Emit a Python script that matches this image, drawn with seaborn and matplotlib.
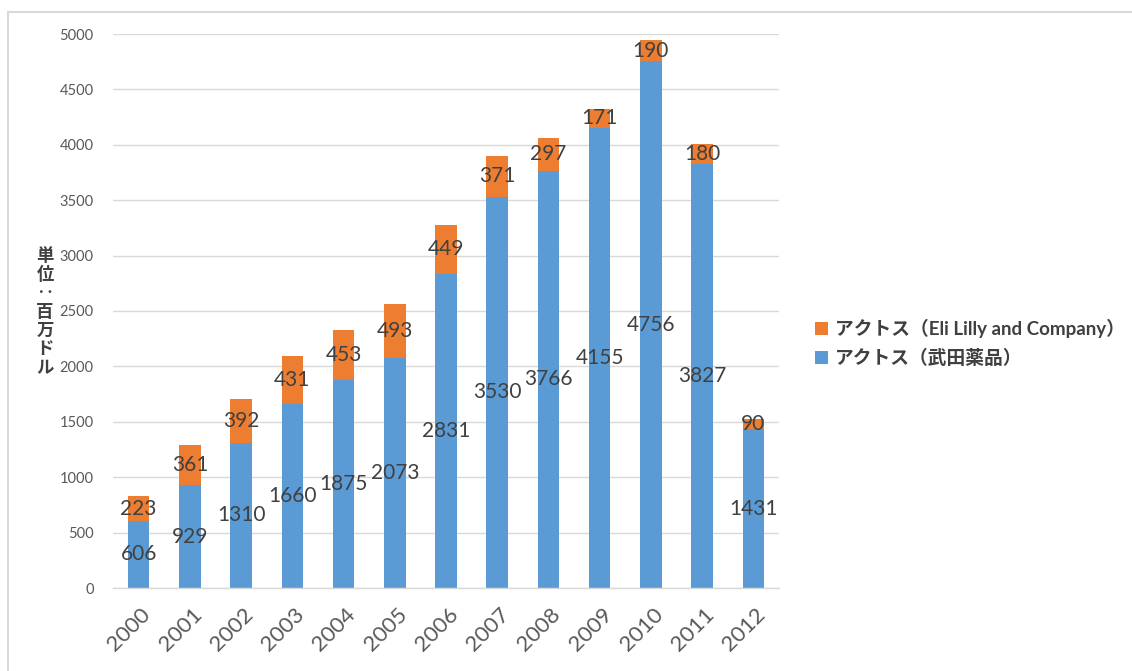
import matplotlib
matplotlib.use("Agg")
import matplotlib.pyplot as plt
import matplotlib.transforms as mtransforms
from matplotlib.patches import Rectangle, Patch
import seaborn as sns
import pandas as pd

years = ["2000", "2001", "2002", "2003", "2004", "2005", "2006",
         "2007", "2008", "2009", "2010", "2011", "2012"]
takeda = [606, 929, 1310, 1660, 1875, 2073, 2831, 3530, 3766, 4155, 4756, 3827, 1431]
lilly = [223, 361, 392, 431, 453, 493, 449, 371, 297, 171, 190, 180, 90]
label_takeda = "アクトス（武田薬品）"
label_lilly = "アクトス（Eli Lilly and Company）"
ylabel_text = "単位：百万ドル"

BLUE = "#5B9BD5"
ORANGE = "#ED7D31"
GRID = "#D9D9D9"
TEXT = "#404040"
TICK = "#595959"

sns.set_theme(style="white")
plt.rcParams["font.family"] = ["Lato", "Noto Sans CJK JP", "DejaVu Sans"]

df = pd.DataFrame({"year": years, "takeda": takeda, "lilly": lilly})

fig = plt.figure(figsize=(11.32, 6.71), dpi=100)
ax = fig.add_axes([113 / 1132, 1 - 588 / 671, (779 - 113) / 1132, (588 - 34) / 671])

sns.barplot(data=df, x="year", y="takeda", color=BLUE, width=0.42,
            saturation=1, ax=ax, linewidth=0, edgecolor="none")
sns.barplot(data=df, x="year", y="lilly", color=ORANGE, width=0.42,
            saturation=1, ax=ax, bottom=df["takeda"], linewidth=0, edgecolor="none")
if ax.get_legend() is not None:
    ax.get_legend().remove()

ax.set_ylim(0, 5000)
ax.set_xlim(-0.5, len(years) - 0.5)
ax.set_yticks(range(0, 5001, 500))
ax.yaxis.grid(True, color=GRID, linewidth=1)
ax.set_axisbelow(True)
for s in ["top", "right", "left"]:
    ax.spines[s].set_visible(False)
ax.spines["bottom"].set_color(GRID)
ax.spines["bottom"].set_linewidth(1)
ax.tick_params(axis="y", length=0, pad=14, labelsize=10.5, labelcolor=TICK)
ax.tick_params(axis="x", length=0, pad=17, labelsize=16, labelcolor=TICK)
ax.set_xlabel("")
ax.set_ylabel("")

offset = mtransforms.ScaledTranslation(9 / 100, 0, fig.dpi_scale_trans)
for lab in ax.get_xticklabels():
    lab.set_rotation(45)
    lab.set_ha("right")
    lab.set_va("center")
    lab.set_rotation_mode("anchor")
    lab.set_transform(lab.get_transform() + offset)

# data labels
for i, (b, o) in enumerate(zip(takeda, lilly)):
    ax.text(i, b / 2, str(b), ha="center", va="center", fontsize=15, color=TEXT)
    ax.text(i, b + o / 2, str(o), ha="center", va="center", fontsize=15, color=TEXT)

# vertical y label
fig.text(45 / 1132, 1 - 312 / 671, "\n".join(["単", "位", "‥", "百", "万", "ド", "ル"]),
         ha="center", va="center", fontsize=12.5, fontweight="bold", color=TEXT,
         linespacing=1.05, family=["Noto Sans CJK JP", "DejaVu Sans"])

handles = [Patch(facecolor=ORANGE, edgecolor="none"), Patch(facecolor=BLUE, edgecolor="none")]
fig.legend(handles, [label_lilly, label_takeda], loc="center left",
           bbox_to_anchor=(798 / 1132, 1 - 343 / 671), frameon=False,
           labelcolor=TEXT, handlelength=0.7, handleheight=0.7,
           handletextpad=0.35, labelspacing=0.6,
           prop={"family": ["Lato", "Noto Sans CJK JP"], "size": 13.5, "weight": "bold"})

# outer chart border
fig.patches.append(Rectangle((8 / 1132, -0.1), 1.2, 1 - 12 / 671 + 0.1,
                             transform=fig.transFigure, fill=False,
                             edgecolor=GRID, linewidth=1.5))

fig.savefig("out.png", dpi=100)
